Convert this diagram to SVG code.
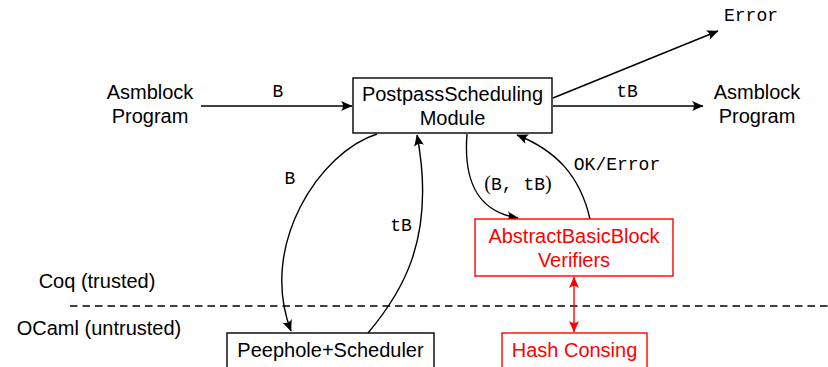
<svg xmlns="http://www.w3.org/2000/svg" width="828" height="367" viewBox="0 0 828 367">
<style>
.t{font-family:"Liberation Sans","DejaVu Sans",sans-serif;font-size:20px;fill:#000;text-anchor:middle}
.m{font-family:"Liberation Mono","DejaVu Sans Mono",monospace;font-size:18px;fill:#000;text-anchor:middle}
.p{font-family:"Liberation Serif","DejaVu Serif",serif;font-size:20px}
.r{fill:#ff0000}
.box{fill:#fff;stroke:#000;stroke-width:1.4}
.rbox{fill:#fff;stroke:#ff0000;stroke-width:1.4}
.e{fill:none;stroke:#000;stroke-width:1.4;marker-end:url(#ah)}
.re{fill:none;stroke:#ff0000;stroke-width:1.4;marker-end:url(#ahr);marker-start:url(#ahr)}
</style>
<defs>
<marker id="ah" markerUnits="userSpaceOnUse" markerWidth="14" markerHeight="12" viewBox="-12 -6 13 12" refX="0" refY="0" orient="auto">
<path d="M0.5,0 L-11,-5 Q-7,0 -11,5 Z" fill="#000"/>
</marker>
<marker id="ahr" markerUnits="userSpaceOnUse" markerWidth="14" markerHeight="12" viewBox="-12 -6 13 12" refX="0" refY="0" orient="auto-start-reverse">
<path d="M0.5,0 L-11,-5 Q-7,0 -11,5 Z" fill="#ff0000"/>
</marker>
</defs>
<rect width="828" height="367" fill="#fff"/>
<line x1="70" y1="306" x2="828" y2="306" stroke="#000" stroke-width="1.3" stroke-dasharray="7.5 5"/>
<text class="t" x="97" y="288">Coq (trusted)</text>
<text class="t" x="99" y="335">OCaml (untrusted)</text>
<g id="edges">
<line class="e" x1="201" y1="106" x2="352" y2="106"/>
<text class="m" x="278" y="97">B</text>
<line class="e" x1="553" y1="106" x2="703" y2="106"/>
<text class="m" x="627" y="97">tB</text>
<line class="e" x1="553" y1="98" x2="718" y2="31"/>
<path class="e" d="M377,134 C320,152 258,245 291,331"/>
<text class="m" x="290" y="184">B</text>
<path class="e" d="M368,333 C400,295 437,240 417,135"/>
<text class="m" x="401" y="231">tB</text>
<path class="e" d="M467,134 C463,185 480,212 518,218"/>
<text class="m" x="518" y="190"><tspan class="p">(</tspan>B, tB<tspan class="p">)</tspan></text>
<path class="e" d="M590,219 C580,175 555,150 517,135"/>
<text class="m" x="617" y="170">OK/Error</text>
<line class="re" x1="574" y1="277" x2="574" y2="332"/>
</g>
<g id="in">
<text class="t" x="150" y="99">Asmblock</text>
<text class="t" x="150" y="123">Program</text>
</g>
<g id="out">
<text class="t" x="757" y="99">Asmblock</text>
<text class="t" x="757" y="123">Program</text>
</g>
<g id="error">
<text class="m" x="751" y="21">Error</text>
</g>
<g id="postpass">
<rect class="box" x="353" y="78" width="199" height="55"/>
<text class="t" x="452.5" y="101">PostpassScheduling</text>
<text class="t" x="452.5" y="125">Module</text>
</g>
<g id="peephole">
<rect class="box" x="227" y="333" width="207" height="40"/>
<text class="t" x="330.5" y="357">Peephole+Scheduler</text>
</g>
<g id="verifiers">
<rect class="rbox" x="475" y="219" width="198" height="57"/>
<text class="t r" x="574" y="243">AbstractBasicBlock</text>
<text class="t r" x="574" y="267">Verifiers</text>
</g>
<g id="hash">
<rect class="rbox" x="502" y="333" width="145" height="40"/>
<text class="t r" x="574.5" y="357">Hash Consing</text>
</g>
</svg>
